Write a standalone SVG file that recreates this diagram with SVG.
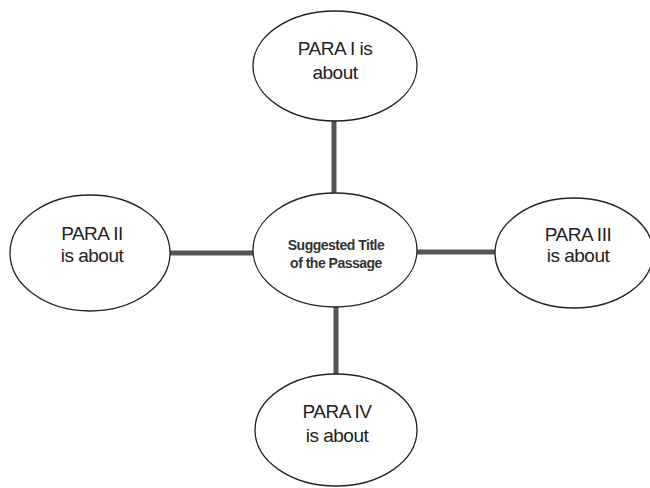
<svg xmlns="http://www.w3.org/2000/svg" width="650" height="488" viewBox="0 0 650 488">
<style>
.node ellipse{fill:#fff;stroke:#222;stroke-width:1.3}
.node text{font-family:"Liberation Sans",Arial,sans-serif;font-size:19px;fill:#222;text-anchor:middle;letter-spacing:-0.5px}
.node text.small{font-size:14px;font-weight:bold;letter-spacing:-0.5px;fill:#333}
.conn line{stroke:#555;stroke-width:5}
</style>
<rect width="650" height="488" fill="#fff"/>
<g id="connectors" class="conn">
<line x1="334" y1="120" x2="334" y2="194"/>
<line x1="169" y1="253" x2="254" y2="253"/>
<line x1="416" y1="252" x2="496" y2="252"/>
<line x1="336" y1="306" x2="336" y2="374"/>
</g>
<g id="center" class="node">
<ellipse cx="335" cy="250" rx="82" ry="57"/>
<text class="small" x="336" y="250">Suggested Title</text>
<text class="small" x="336" y="268">of the Passage</text>
</g>
<g id="para1" class="node">
<ellipse cx="335" cy="66" rx="82" ry="55"/>
<text x="335" y="55">PARA I is</text>
<text x="335" y="79">about</text>
</g>
<g id="para2" class="node">
<ellipse cx="90" cy="253" rx="80" ry="58"/>
<text x="92" y="240">PARA II</text>
<text x="92" y="262">is about</text>
</g>
<g id="para3" class="node">
<ellipse cx="574" cy="253" rx="79" ry="55"/>
<text x="578" y="241">PARA III</text>
<text x="578" y="262">is about</text>
</g>
<g id="para4" class="node">
<ellipse cx="336" cy="430" rx="81" ry="56"/>
<text x="337" y="418">PARA IV</text>
<text x="337" y="442">is about</text>
</g>
</svg>
